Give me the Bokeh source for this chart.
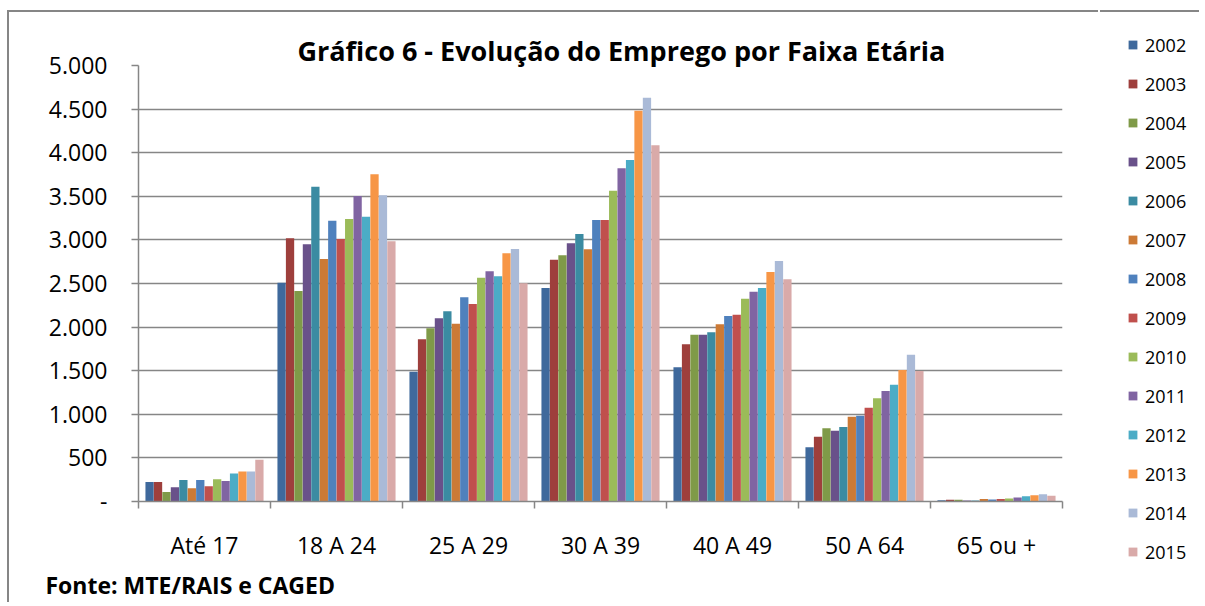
from bokeh.plotting import figure
from bokeh.models import (Range1d, FixedTicker, Legend, LegendItem, Title, ColumnDataSource)
from bokeh.transform import dodge
from bokeh.embed import file_html
from bokeh.resources import INLINE

categories = ["Até 17", "18 A 24", "25 A 29", "30 A 39", "40 A 49", "50 A 64", "65 ou +"]
years = ["2002", "2003", "2004", "2005", "2006", "2007", "2008",
         "2009", "2010", "2011", "2012", "2013", "2014", "2015"]

v2002 = [223, 2510, 1488, 2448, 1539, 622, 15]
v2003 = [223, 3018, 1860, 2773, 1803, 743, 20]
v2004 = [109, 2414, 1986, 2823, 1913, 839, 20]
v2005 = [164, 2949, 2101, 2961, 1913, 812, 12]
v2006 = [246, 3610, 2181, 3068, 1940, 854, 12]
v2007 = [152, 2781, 2039, 2892, 2032, 973, 28]
v2008 = [246, 3220, 2342, 3228, 2127, 984, 24]
v2009 = [176, 3010, 2265, 3228, 2142, 1076, 28]
v2010 = [254, 3240, 2567, 3564, 2326, 1183, 35]
v2011 = [234, 3503, 2640, 3821, 2406, 1267, 47]
v2012 = [320, 3266, 2582, 3916, 2448, 1340, 59]
v2013 = [344, 3752, 2846, 4482, 2632, 1508, 71]
v2014 = [344, 3511, 2896, 4631, 2758, 1684, 83]
v2015 = [480, 2984, 2502, 4085, 2548, 1497, 67]

series = [v2002, v2003, v2004, v2005, v2006, v2007, v2008,
          v2009, v2010, v2011, v2012, v2013, v2014, v2015]

colors = ["#3F699C", "#9E3F3C", "#7F9A48", "#69518A", "#3B8BA2", "#CC7A36", "#4F81BD",
          "#C0504D", "#9BBB59", "#8064A2", "#4BACC6", "#F79646", "#AABAD7", "#D9AAA9"]

yticks = [0, 500, 1000, 1500, 2000, 2500, 3000, 3500, 4000, 4500, 5000]

title_text = "Gráfico 6 - Evolução do Emprego por Faixa Etária"
source_text = "Fonte: MTE/RAIS e CAGED"

FONT = "Open Sans"
GRID = "#868686"
BORDER = "2px solid #868686"

# category slots on a numeric axis: centre of slot k is k + 0.5
centers = [k + 0.5 for k in range(len(categories))]
edges = [k for k in range(len(categories) + 1)]

data = {"pos": centers, "cat": categories}
for y, vals in zip(years, series):
    data[y] = vals
src = ColumnDataSource(data)

H = 592
p = figure(x_range=Range1d(0, len(categories)), y_range=Range1d(0, 5000),
           width=1091, height=H, output_backend="svg", toolbar_location=None,
           min_border_left=129, min_border_right=38, min_border_top=53, min_border_bottom=103)
p.styles = {"margin-left": "7px", "margin-top": "10px",
            "border-left": BORDER, "border-top": BORDER}
p.outline_line_color = None
p.background_fill_color = "white"
p.border_fill_color = "white"

n = len(years)
bw = 0.896 / n
offsets = [(i - (n - 1) / 2) * bw for i in range(n)]
for y, c, off in zip(years, colors, offsets):
    p.vbar(x=dodge("pos", off), top=y, width=bw * 0.98, source=src,
           fill_color=c, line_color=None)

# grid
p.xgrid.visible = False
p.ygrid.ticker = FixedTicker(ticks=yticks)
p.ygrid.grid_line_color = GRID
p.ygrid.grid_line_width = 1.5

# y axis
ya = p.yaxis[0]
ya.ticker = FixedTicker(ticks=yticks, minor_ticks=[])
ya.major_label_overrides = {v: ("-" if v == 0 else f"{v:,}".replace(",", ".")) for v in yticks}
ya.major_label_text_font = FONT
ya.major_label_text_font_size = "23px"
ya.major_label_text_color = "black"
ya.axis_line_color = GRID
ya.axis_line_width = 1.5
ya.major_tick_line_color = GRID
ya.major_tick_line_width = 1.5
ya.major_tick_in = 0
ya.major_tick_out = 7
ya.minor_tick_line_color = None
ya.major_label_standoff = 24

# x axis: labels at slot centres, tick marks at slot edges
xa = p.xaxis[0]
xa.ticker = FixedTicker(ticks=centers, minor_ticks=edges)
xa.major_label_overrides = {c: lab for c, lab in zip(centers, categories)}
xa.major_label_text_font = FONT
xa.major_label_text_font_size = "23px"
xa.major_label_text_color = "black"
xa.major_tick_line_color = None
xa.major_tick_in = 0
xa.major_tick_out = 0
xa.minor_tick_line_color = GRID
xa.minor_tick_line_width = 1.5
xa.minor_tick_in = 0
xa.minor_tick_out = 7
xa.axis_line_color = GRID
xa.axis_line_width = 1.5
xa.major_label_standoff = 20

# title
p.title.text = title_text
p.title.align = "left"
p.title.offset = 159
p.title.standoff = -6
p.title.text_font = FONT
p.title.text_font_style = "bold"
p.title.text_font_size = "27px"
p.title.text_color = "black"

# source note under the axis
footer = Title(text=source_text, align="left", offset=-93, standoff=6,
               text_font=FONT, text_font_style="bold", text_font_size="23px",
               text_color="black")
p.add_layout(footer, "below")

# legend panel: a narrow companion figure placed at the right of the chart
lg = figure(x_range=Range1d(-10, -9), y_range=Range1d(0, 1), width=99, height=H,
            output_backend="svg", toolbar_location=None,
            x_axis_location=None, y_axis_location=None,
            min_border_left=0, min_border_right=0, min_border_top=0, min_border_bottom=0)
lg.styles = {"position": "absolute", "left": "1100px", "top": "10px", "border-top": BORDER}
lg.outline_line_color = None
lg.xgrid.visible = False
lg.ygrid.visible = False
lg.border_fill_color = "white"
lg.background_fill_color = "white"
items = []
for y, c, off in zip(years, colors, offsets):
    r = lg.vbar(x=dodge("pos", off), top=y, width=bw * 0.98, source=src,
                fill_color=c, line_color=None)
    items.append(LegendItem(label=y, renderers=[r]))
legend = Legend(items=items, location=(27, 40), orientation="vertical", padding=0, margin=0,
                spacing=14, glyph_height=11, glyph_width=11, label_height=25, label_standoff=7,
                label_text_font=FONT, label_text_font_size="18px", label_text_color="black",
                border_line_color=None, background_fill_alpha=0)
lg.add_layout(legend, "center")

open("out.html", "w").write(file_html([p, lg], INLINE))
